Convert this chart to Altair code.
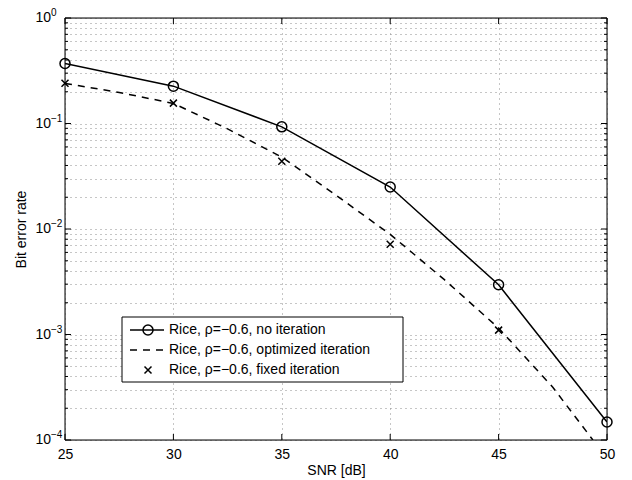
import altair as alt
import pandas as pd

# ---- data ----
snr = [25, 30, 35, 40, 45, 50]
ber_no_iter = [0.37, 0.226, 0.093, 0.025, 0.00296, 0.000148]

snr_opt = [25, 27.5, 30, 32.5, 35, 37.5, 40, 42.5, 45, 47.5, 49.35]
ber_opt = [0.24, 0.197, 0.155, 0.089, 0.048, 0.0209, 0.0089, 0.00331, 0.00115, 0.000316, 0.0001]

snr_fixed = [25, 30, 35, 40, 45]
ber_fixed = [0.241, 0.156, 0.0438, 0.00716, 0.0011]

x_ticks = [25, 30, 35, 40, 45, 50]
y_decades = [1, 0.1, 0.01, 0.001, 0.0001]
y_exps = ["0", "\u22121", "\u22122", "\u22123", "\u22124"]
y_minor = [k * 10.0 ** d for d in range(-4, 0) for k in range(1, 10)] + [1.0]
y_minor_only = [k * 10.0 ** d for d in range(-4, 0) for k in range(2, 10)]

legend_labels = [
    "Rice, \u03c1=\u22120.6, no iteration",
    "Rice, \u03c1=\u22120.6, optimized iteration",
    "Rice, \u03c1=\u22120.6, fixed iteration",
]

W, H = 542, 422
FONT = "Liberation Sans"

xs = alt.Scale(domain=[25, 50], nice=False)
ys = alt.Scale(type="log", domain=[1e-4, 1], nice=False)

x_axis = alt.Axis(values=x_ticks, grid=True, gridDash=[1, 4], gridColor="#8c8c8c",
                  ticks=False, domain=False, labelFontSize=14, labelPadding=7,
                  labelFlush=False, labelColor="black", title="SNR [dB]",
                  titleFontSize=14, titleFontWeight="normal", titlePadding=2,
                  titleColor="black")
y_axis = alt.Axis(values=y_minor, grid=True, gridDash=[1, 4], gridColor="#8c8c8c",
                  ticks=False, domain=False, labels=False, title="Bit error rate",
                  titleFontSize=14, titleFontWeight="normal", titleColor="black",
                  titleX=-44, titleY=H / 2, titleAngle=270, titleAlign="center",
                  titleBaseline="middle")

def X(f):
    return alt.X(f, scale=xs, axis=x_axis)

def Y(f):
    return alt.Y(f, scale=ys, axis=y_axis)

df_no = pd.DataFrame({"snr": snr, "ber": ber_no_iter})
df_opt = pd.DataFrame({"snr": snr_opt, "ber": ber_opt})
df_fix = pd.DataFrame({"snr": snr_fixed, "ber": ber_fixed})
df_dec = pd.DataFrame({"v": y_decades, "e": y_exps})
df_minor = pd.DataFrame({"v": y_minor_only})
df_xt = pd.DataFrame({"x": x_ticks})
one = pd.DataFrame({"a": [0]})

cross = "M-1,-1L1,1M-1,1L1,-1"

layers = []

# curves
layers.append(alt.Chart(df_no).mark_line(color="black", strokeWidth=1.5, clip=True)
              .encode(x=X("snr:Q"), y=Y("ber:Q")))
layers.append(alt.Chart(df_no).mark_point(shape="circle", size=100, filled=False,
                                          color="black", strokeWidth=1.5, opacity=1)
              .encode(x=X("snr:Q"), y=Y("ber:Q")))
layers.append(alt.Chart(df_opt).mark_line(color="black", strokeWidth=1.5,
                                          strokeDash=[7, 6], clip=True)
              .encode(x=X("snr:Q"), y=Y("ber:Q")))
layers.append(alt.Chart(df_fix).mark_point(shape=cross, size=49, filled=False,
                                           color="black", strokeWidth=1.5, opacity=1)
              .encode(x=X("snr:Q"), y=Y("ber:Q")))

# inward ticks: y major / minor, left and right
for x0, x1 in [(0, 6), (W, W - 6)]:
    layers.append(alt.Chart(df_dec).mark_rule(color="black", strokeWidth=1)
                  .encode(y=Y("v:Q"), x=alt.value(x0), x2=alt.value(x1)))
for x0, x1 in [(0, 3), (W, W - 3)]:
    layers.append(alt.Chart(df_minor).mark_rule(color="black", strokeWidth=1)
                  .encode(y=Y("v:Q"), x=alt.value(x0), x2=alt.value(x1)))
# inward ticks: x, bottom and top
for y0, y1 in [(H, H - 6), (0, 6)]:
    layers.append(alt.Chart(df_xt).mark_rule(color="black", strokeWidth=1)
                  .encode(x=X("x:Q"), y=alt.value(y0), y2=alt.value(y1)))

# y tick labels 10^n
layers.append(alt.Chart(df_dec).mark_text(align="right", baseline="middle", fontSize=14,
                                          color="black", font=FONT)
              .encode(y=Y("v:Q"), x=alt.value(-14), text=alt.value("10")))
layers.append(alt.Chart(df_dec).mark_text(align="left", baseline="middle", fontSize=10,
                                          color="black", font=FONT, dy=-5)
              .encode(y=Y("v:Q"), x=alt.value(-14), text=alt.Text("e:N")))

# plot box
layers.append(alt.Chart(one).mark_rect(fillOpacity=0, stroke="black", strokeWidth=1)
              .encode(x=alt.value(0), x2=alt.value(W), y=alt.value(0), y2=alt.value(H)))

# legend (manual)
LX0, LX1, LY0, LY1 = 57, 338, 299, 364
layers.append(alt.Chart(one).mark_rect(fill="white", stroke="black", strokeWidth=1)
              .encode(x=alt.value(LX0), x2=alt.value(LX1), y=alt.value(LY0), y2=alt.value(LY1)))
rows = [312, 332, 352]
sx0, sx1, sc, tx = 65, 99, 83, 104
layers.append(alt.Chart(one).mark_rule(color="black", strokeWidth=1.5)
              .encode(x=alt.value(sx0), x2=alt.value(sx1), y=alt.value(rows[0])))
layers.append(alt.Chart(one).mark_point(shape="circle", size=100, filled=False,
                                        color="black", strokeWidth=1.5, opacity=1)
              .encode(x=alt.value(sc), y=alt.value(rows[0])))
layers.append(alt.Chart(one).mark_rule(color="black", strokeWidth=1.5, strokeDash=[7, 6])
              .encode(x=alt.value(sx0), x2=alt.value(sx1), y=alt.value(rows[1])))
layers.append(alt.Chart(one).mark_point(shape=cross, size=49, filled=False,
                                        color="black", strokeWidth=1.5, opacity=1)
              .encode(x=alt.value(sc), y=alt.value(rows[2])))
for i, lab in enumerate(legend_labels):
    layers.append(alt.Chart(pd.DataFrame({"t": [lab]}))
                  .mark_text(align="left", baseline="middle", fontSize=14,
                             color="black", font=FONT)
                  .encode(x=alt.value(tx), y=alt.value(rows[i]), text=alt.Text("t:N")))

chart = (alt.layer(*layers)
         .properties(width=W, height=H, autosize=alt.AutoSizeParams(type="none"),
                     padding={"left": 57, "top": 10, "right": 17, "bottom": 40},
                     background="white")
         .configure_view(strokeWidth=0)
         .configure(font=FONT))

chart.save("out.html", embed_options={"renderer": "svg", "actions": False})
